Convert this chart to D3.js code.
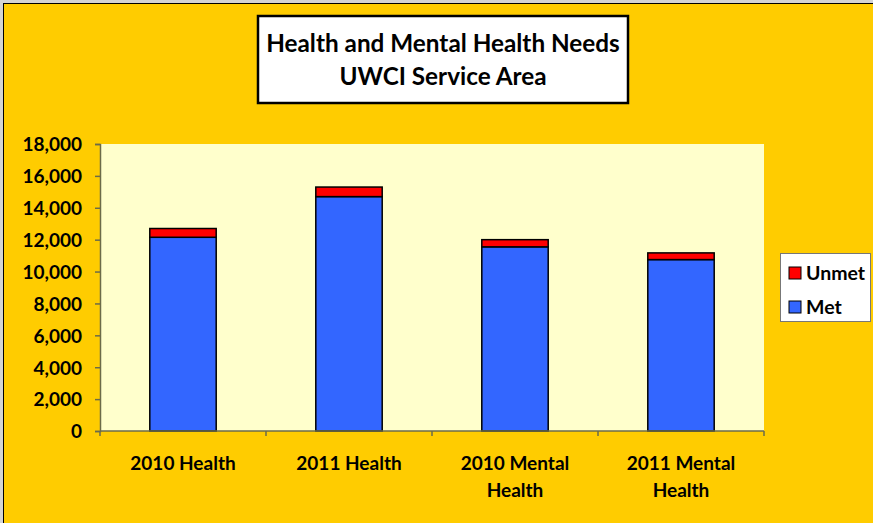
<!DOCTYPE html>
<html>
<head>
<meta charset="utf-8">
<script src="https://cdn.jsdelivr.net/npm/d3@7"></script>
<style>
  html, body { margin: 0; padding: 0; background: #d4d4d4; }
  svg { display: block; }
  text { font-family: Lato, "Open Sans", sans-serif; font-weight: bold; fill: #000; }
</style>
</head>
<body>
<svg id="chart" width="873" height="523"></svg>
<script>
// Chart data
const categories = [["2010 Health"], ["2011 Health"], ["2010 Mental", "Health"], ["2011 Mental", "Health"]];
const metValues = [12150, 14700, 11550, 10750];
const unmetValues = [550, 600, 450, 420];
const seriesNames = ["Met", "Unmet"];
const yTicks = [0, 2000, 4000, 6000, 8000, 10000, 12000, 14000, 16000, 18000];
const titleLines = ["Health and Mental Health Needs", "UWCI Service Area"];

const colors = { Met: "#3366FF", Unmet: "#FF0000" };

const svg = d3.select("#chart");
const W = 873, H = 523;

// Chart background with outer frame
svg.append("rect").attr("x", 3.5).attr("y", 3.5).attr("width", W + 10).attr("height", H + 10)
  .attr("fill", "#FFCC00").attr("stroke", "#000").attr("stroke-width", 1);

const plot = { left: 100, right: 764, top: 144, bottom: 431 };

const x = d3.scaleBand()
  .domain(d3.range(categories.length))
  .range([plot.left, plot.right])
  .paddingInner(0.6).paddingOuter(0.3);

const y = d3.scaleLinear().domain([0, 18000]).range([plot.bottom, plot.top]);

// Plot area
svg.append("rect")
  .attr("x", plot.left).attr("y", plot.top)
  .attr("width", plot.right - plot.left).attr("height", plot.bottom - plot.top)
  .attr("fill", "#FFFFCC");

// Stacked bars
const rows = categories.map((c, i) => ({ i, Met: metValues[i], Unmet: unmetValues[i] }));
const stacked = d3.stack().keys(seriesNames)(rows);

svg.append("g").selectAll("g").data(stacked).join("g")
  .attr("fill", d => colors[d.key])
  .selectAll("rect").data(d => d).join("rect")
    .attr("x", d => x(d.data.i))
    .attr("y", d => y(d[1]))
    .attr("width", x.bandwidth())
    .attr("height", d => y(d[0]) - y(d[1]))
    .attr("stroke", "#000").attr("stroke-width", 1.5);

// Y axis
const yAxis = d3.axisLeft(y).tickValues(yTicks).tickSize(5).tickFormat(d3.format(","));
const yg = svg.append("g").attr("transform", `translate(${plot.left},0)`).call(yAxis);
yg.select(".domain").attr("stroke", "#6b6b4a").attr("stroke-width", 1.5);
yg.selectAll(".tick line").attr("stroke", "#6b6b4a").attr("stroke-width", 1.5);
yg.selectAll(".tick text").attr("x", -18).attr("dy", "0.36em")
  .style("font-size", "19px").style("font-family", "Lato, sans-serif").style("font-weight", "bold").attr("fill", "#000");

// X axis line and category separators
const xAxisG = svg.append("g");
xAxisG.append("line").attr("x1", plot.left).attr("x2", plot.right)
  .attr("y1", plot.bottom).attr("y2", plot.bottom)
  .attr("stroke", "#6b6b4a").attr("stroke-width", 1.5);
const sepX = d3.range(categories.length + 1).map(k => plot.left + k * (plot.right - plot.left) / categories.length);
xAxisG.selectAll("line.sep").data(sepX).join("line").attr("class", "sep")
  .attr("x1", d => d).attr("x2", d => d)
  .attr("y1", plot.bottom).attr("y2", plot.bottom + 5)
  .attr("stroke", "#6b6b4a").attr("stroke-width", 1.5);

// Category labels
const catG = svg.append("g").selectAll("text").data(categories).join("text")
  .attr("text-anchor", "middle")
  .attr("x", (d, i) => x(i) + x.bandwidth() / 2)
  .attr("y", 470)
  .style("font-size", "19px");
catG.selectAll("tspan").data(d => d).join("tspan")
  .attr("x", function () { return this.parentNode.getAttribute("x"); })
  .attr("dy", (d, j) => j === 0 ? 0 : 27)
  .text(d => d);

// Title box
svg.append("rect").attr("x", 258).attr("y", 16).attr("width", 370).attr("height", 87)
  .attr("fill", "#fff").attr("stroke", "#000").attr("stroke-width", 2.5);
svg.append("g").selectAll("text").data(titleLines).join("text")
  .attr("x", 443).attr("y", (d, i) => 52 + i * 33)
  .attr("text-anchor", "middle")
  .style("font-size", "24.3px")
  .text(d => d);

// Legend
const legend = svg.append("g");
legend.append("rect").attr("x", 780.5).attr("y", 253.5).attr("width", 90).attr("height", 68)
  .attr("fill", "#fff").attr("stroke", "#777").attr("stroke-width", 1);
const legendItems = ["Unmet", "Met"];
const li = legend.selectAll("g.item").data(legendItems).join("g").attr("class", "item")
  .attr("transform", (d, i) => `translate(789,${267 + i * 34})`);
li.append("rect").attr("width", 12).attr("height", 12)
  .attr("fill", d => colors[d]).attr("stroke", "#000").attr("stroke-width", 1);
li.append("text").attr("x", 17).attr("y", 6).attr("dy", "0.36em")
  .style("font-size", "19.5px").text(d => d);
</script>
</body>
</html>
